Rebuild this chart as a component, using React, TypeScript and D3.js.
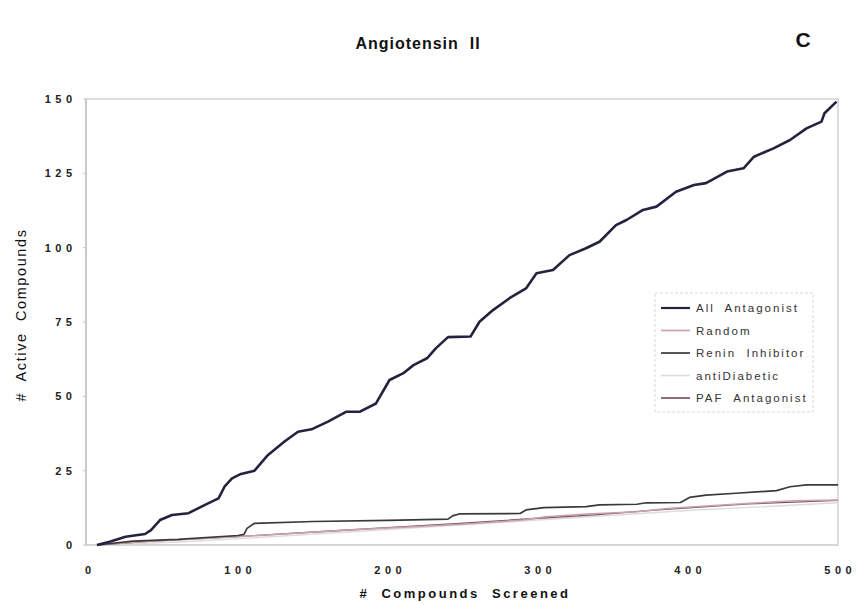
import React from "react";
import * as d3 from "d3";

const allAntagonist: [number, number][] = [
  [6, 0], [15, 1.2], [25, 2.8], [38, 3.7], [42, 5], [48, 8.4], [56, 10.1], [67, 10.7],
  [78, 13.5], [87, 15.7], [91, 19.6], [96, 22.4], [102, 23.9], [111, 25], [120, 30.3],
  [131, 34.8], [140, 38.1], [149, 38.9], [160, 41.5], [172, 44.8], [181, 44.8],
  [192, 47.6], [201, 55.5], [210, 57.7], [217, 60.5], [226, 62.8], [232, 66.2],
  [240, 69.9], [255, 70.1], [261, 75.1], [270, 79], [281, 83], [292, 86.3], [299, 91.4],
  [310, 92.5], [321, 97.5], [332, 99.8], [341, 102], [352, 107.6], [359, 109.3],
  [370, 112.7], [379, 113.8], [392, 118.8], [404, 121.1], [412, 121.7], [426, 125.6],
  [437, 126.7], [444, 130.6], [457, 133.4], [468, 136.2], [479, 140.1], [489, 142.4],
  [491, 145.2], [499, 149.1],
];

const random: [number, number][] = [
  [6, 0], [35, 1.1], [100, 2.8], [170, 5], [250, 7], [290, 8.4], [305, 9.5], [332, 10.4],
  [366, 11.2], [386, 12.3], [441, 14], [470, 14.9], [500, 15.1],
];

const reninInhibitor: [number, number][] = [
  [6, 0], [30, 1.3], [60, 1.9], [100, 3.2], [104, 3.6], [106, 5.6], [111, 7.3], [150, 7.9],
  [200, 8.3], [240, 8.7], [243, 9.8], [248, 10.5], [288, 10.6], [292, 11.8], [304, 12.6],
  [332, 12.9], [341, 13.5], [366, 13.7], [372, 14.2], [395, 14.3], [401, 16], [412, 16.8],
  [432, 17.4], [459, 18.3], [468, 19.6], [479, 20.2], [500, 20.2],
];

const antiDiabetic: [number, number][] = [
  [6, 0], [60, 1], [110, 2.4], [200, 5.2], [300, 8.4], [400, 11.6], [500, 14.2],
];

const pafAntagonist: [number, number][] = [
  [6, 0], [40, 1.2], [105, 3], [165, 4.8], [245, 7.2], [300, 9], [340, 10.2], [380, 11.8],
  [440, 13.8], [500, 15],
];

const xTicks = [0, 100, 200, 300, 400, 500];
const yTicks = [0, 25, 50, 75, 100, 125, 150];

const seriesNames = ["All  Antagonist", "Random", "Renin  Inhibitor", "antiDiabetic", "PAF  Antagonist"];
const seriesData = [allAntagonist, random, reninInhibitor, antiDiabetic, pafAntagonist];
const seriesColors = ["#23233f", "#c9a3aa", "#3a3a3a", "#dcdcdc", "#7d5262"];
const seriesWidths = [2.6, 1.5, 1.7, 1.4, 1.3];
const drawOrder = [3, 4, 1, 2, 0];

export default function App() {
  const W = 858, H = 605;
  const x = d3.scaleLinear().domain([0, 500]).range([88, 838]);
  const y = d3.scaleLinear().domain([0, 150]).range([545, 99]);
  const line = d3.line<[number, number]>().x((d) => x(d[0])).y((d) => y(d[1]));
  const font = "Arial, 'Liberation Sans', Helvetica, sans-serif";

  const legX = 655, legY = 293, legW = 158, legH = 119;
  const rowY = (i: number) => 308 + i * 22.5;
  const tickSp = 4.5;

  return (
    <svg width={W} height={H} style={{ position: "absolute", left: 0, top: 0, background: "#fff" }} fontFamily={font}>
      <rect x={0} y={0} width={W} height={H} fill="#fff" />
      <rect x={x(0) - 2} y={y(150)} width={x(500) - x(0) + 2} height={y(0) - y(150)} fill="none" stroke="#d2d2d2" strokeWidth={1.5} />
      <line x1={x(0) - 2} x2={x(0) - 2} y1={y(150)} y2={y(0)} stroke="#bdbdbd" strokeWidth={1.2} />
      <line x1={x(0) - 2} x2={x(500)} y1={y(0)} y2={y(0)} stroke="#cfcfcf" strokeWidth={1.2} />
      {yTicks.map((t) => (
        <g key={"y" + t}>
          <line x1={x(0) - 5} x2={x(0) - 2} y1={y(t)} y2={y(t)} stroke="#c8c8c8" strokeWidth={1} />
          <text x={x(0) - 16 + tickSp} y={y(t)} dy="0.35em" textAnchor="end" fontSize={11} fontWeight="bold" letterSpacing={tickSp} fill="#222">
            {t}
          </text>
        </g>
      ))}
      {xTicks.map((t) => (
        <text key={"x" + t} x={x(t) + tickSp / 2} y={570} dy="0.35em" textAnchor="middle" fontSize={11} fontWeight="bold" letterSpacing={tickSp} fill="#222">
          {t}
        </text>
      ))}
      {drawOrder.map((i) => (
        <path key={seriesNames[i]} d={line(seriesData[i]) || ""} fill="none" stroke={seriesColors[i]} strokeWidth={seriesWidths[i]} strokeLinejoin="round" />
      ))}
      <rect x={legX} y={legY} width={legW} height={legH} fill="#fff" stroke="#d8d8d8" strokeWidth={1} strokeDasharray="3,2" />
      {seriesNames.map((n, i) => (
        <g key={"leg" + n}>
          <line x1={661} x2={690} y1={rowY(i)} y2={rowY(i)} stroke={seriesColors[i]} strokeWidth={i === 0 ? 2.2 : 1.7} />
          <text x={696} y={rowY(i)} dy="0.35em" fontSize={11.5} letterSpacing={2} fill="#333" style={{ whiteSpace: "pre" }}>
            {n}
          </text>
        </g>
      ))}
      <text x={418} y={43} dy="0.35em" textAnchor="middle" fontSize={16} fontWeight="bold" letterSpacing={1} fill="#111" style={{ whiteSpace: "pre" }}>
        {"Angiotensin  II"}
      </text>
      <text x={803} y={40} dy="0.35em" textAnchor="middle" fontSize={21} fontWeight="bold" fill="#111">
        C
      </text>
      <text x={465} y={593} dy="0.35em" textAnchor="middle" fontSize={13} fontWeight="bold" letterSpacing={2.5} fill="#111" style={{ whiteSpace: "pre" }}>
        {"#  Compounds  Screened"}
      </text>
      <text transform={`translate(21,315) rotate(-90)`} dy="0.35em" textAnchor="middle" fontSize={14.5} letterSpacing={1.6} fill="#111" style={{ whiteSpace: "pre" }}>
        {"#  Active  Compounds"}
      </text>
    </svg>
  );
}
